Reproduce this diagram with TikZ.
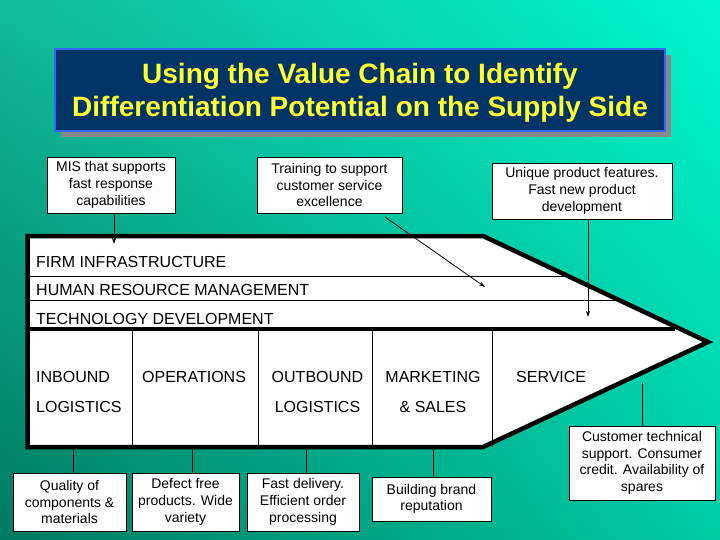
\documentclass[tikz,border=0pt]{standalone}
\usepackage{fontspec}
\setmainfont{Liberation Sans}
\usetikzlibrary{arrows.meta,calc,shadings}
\definecolor{bgTL}{RGB}{18,186,152}
\definecolor{bgTR}{RGB}{0,246,206}
\definecolor{bgBL}{RGB}{0,122,96}
\definecolor{bgBR}{RGB}{0,204,164}
\definecolor{navy}{RGB}{0,51,102}
\definecolor{titleborder}{RGB}{51,102,255}
\definecolor{titletext}{RGB}{255,255,51}
\definecolor{shadowgray}{RGB}{136,136,136}
\begin{document}
\begin{tikzpicture}[x=1pt,y=-1pt,
  infobox/.style={draw=black, line width=0.6pt, fill=white, align=center, inner sep=0pt,
    font=\fontsize{14}{16.7}\selectfont},
  chainlab/.style={inner sep=0pt, font=\fontsize{16}{30}\selectfont},
  arr/.style={line width=0.8pt, -{Stealth[length=6pt,width=4pt]}},
  plain/.style={line width=0.6pt}]
\useasboundingbox (0,0) rectangle (720,540);
% background
\shade[upper left=bgTL, upper right=bgTR, lower left=bgBL, lower right=bgBR] (0,0) rectangle (720,540);
% title
\fill[shadowgray] (61,55) rectangle (671,137);
\node[draw=titleborder, line width=1.5pt, fill=navy, minimum width=610pt, minimum height=82pt,
  inner sep=0pt] (titlebox) at (360,90) {};
\node[inner sep=0pt, align=center, text=titletext, font=\fontsize{28}{32.5}\bfseries\selectfont] (title) at (360,93)
  {Using the Value Chain to Identify\\Differentiation Potential on the Supply Side};
% value chain
\fill[white] (27.5,236) -- (483,236) -- (708,342) -- (483,447) -- (27.5,447) -- cycle;
\draw[line width=0.6pt] (27.5,276) -- (568,276);
\draw[line width=0.6pt] (27.5,300) -- (619,300);
\draw[line width=4.5pt] (27.5,329) -- (675,329);
\foreach \xx in {132,258,372,492} \draw[line width=0.6pt] (\xx,329) -- (\xx,447);
\draw[line width=4.5pt, line join=miter] (27.5,236) -- (483,236) -- (708,342) -- (483,447) -- (27.5,447) -- cycle;
% labels
\node[chainlab, anchor=west] (firm) at (36,262) {FIRM INFRASTRUCTURE};
\node[chainlab, anchor=west] (hrm) at (36,290) {HUMAN RESOURCE MANAGEMENT};
\node[chainlab, anchor=west] (tech) at (36,319) {TECHNOLOGY DEVELOPMENT};
\node[chainlab, anchor=west, align=left] (inb) at (36,392) {INBOUND\\LOGISTICS};
\node[chainlab, anchor=west] (ops) at (142,377) {OPERATIONS};
\node[chainlab, align=center] (outb) at (317.5,392) {OUTBOUND\\LOGISTICS};
\node[chainlab, align=center] (mkt) at (433,392) {MARKETING\\\& SALES};
\node[chainlab, anchor=west] (serv) at (516,377) {SERVICE};
% top boxes
\node[infobox, minimum width=128pt, minimum height=56pt] (mis) at (111,185)
  {MIS that supports\\fast response\\capabilities};
\node[infobox, minimum width=145pt, minimum height=56pt] (train) at (329.5,185)
  {Training to support\\customer service\\excellence};
\node[infobox, minimum width=180pt, minimum height=56pt] (uniq) at (582,191)
  {Unique product features.\\Fast new product\\development};
% bottom boxes
\node[infobox, minimum width=113pt, minimum height=58pt] (qual) at (69.5,502)
  {Quality of\\components \&\\materials};
\node[infobox, minimum width=107pt, minimum height=58pt] (defect) at (185.5,502)
  {Defect free\\products. Wide\\variety};
\node[infobox, minimum width=112pt, minimum height=58pt] (fast) at (303,502)
  {Fast delivery.\\Efficient order\\processing};
\node[infobox, minimum width=119pt, minimum height=44pt] (brand) at (431.5,499)
  {Building brand\\reputation};
\node[infobox, minimum width=146pt, minimum height=74pt] (cust) at (642,463)
  {Customer technical\\support. Consumer\\credit. Availability of\\spares};
% connector end points
\coordinate (misT) at (114,244);
\coordinate (trS) at (385,217);
\coordinate (trT) at (485,287);
\coordinate (uqT) at (588,317);
\coordinate (qualT) at (73,447);
\coordinate (defT) at (192,447);
\coordinate (fastT) at (306,447);
\coordinate (brandT) at (433,447);
\coordinate (custT) at (642,383);
% connectors
\draw[arr] (mis.south -| misT) -- (misT);
\draw[arr] (trS) -- (trT);
\draw[arr] (uniq.south -| uqT) -- (uqT);
\draw[plain] (qual.north -| qualT) -- (qualT);
\draw[plain] (defect.north -| defT) -- (defT);
\draw[plain] (fast.north -| fastT) -- (fastT);
\draw[plain] (brand.north -| brandT) -- (brandT);
\draw[plain] (cust.north -| custT) -- (custT);
\end{tikzpicture}
\end{document}
